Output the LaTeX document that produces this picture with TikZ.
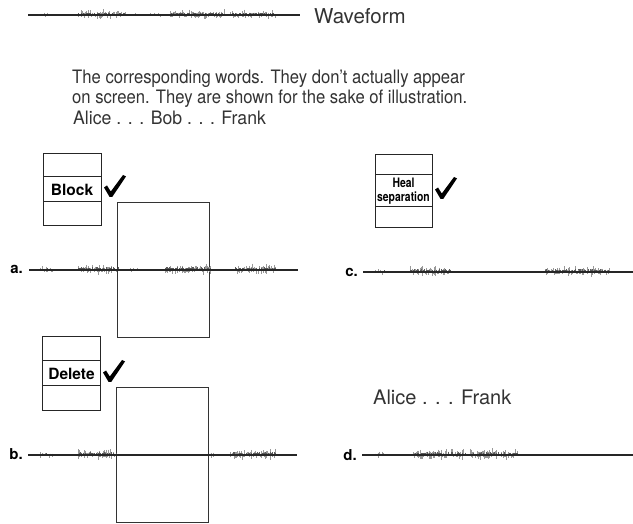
\documentclass[tikz,border=0pt]{standalone}
\usepackage{fontspec}
\setmainfont{TeX Gyre Heros}
\begin{document}
\begin{tikzpicture}[x=1pt,y=-1pt,
  base/.style={draw=black!85,line width=1.2pt},
  cell/.style={draw=black!85,line width=1pt,minimum width=58pt,inner sep=0pt,outer sep=0pt},
  frame/.style={draw=black!80,line width=0.9pt,minimum width=92pt,minimum height=135pt,inner sep=0pt},
  caption/.style={font=\fontsize{18.5}{20}\selectfont,text=black!80,inner sep=0pt,anchor=base west},
  tag/.style={font=\fontsize{15}{15}\selectfont\bfseries,inner sep=0pt,anchor=base east},
  menutext/.style={font=\fontsize{15.5}{15.5}\selectfont\bfseries,inner sep=0pt},
  wavetick/.style={draw=black!40,line width=0.5pt},
  wavecore/.style={draw=black!65,line width=0.5pt}]
\useasboundingbox (0,0) rectangle (633,524);
\pgfmathsetseed{4711}
% a short burst of noise drawn around a base line
\newcommand\wavburst[4]{%
  \pgfmathtruncatemacro\wbn{(#2-#1)/0.7}%
  \foreach \k in {0,...,\wbn}{%
    \pgfmathsetmacro\wbx{#1+0.7*\k}%
    \pgfmathsetmacro\wbu{#4*rnd*rnd}%
    \pgfmathsetmacro\wbd{0.8*#4*rnd*rnd}%
    \draw[wavetick] (\wbx,#3-\wbu) -- (\wbx,#3+\wbd);
    \pgfmathsetmacro\wbc{0.4*#4*rnd}%
    \draw[wavecore] (\wbx,#3-\wbc) -- (\wbx,#3+0.5*\wbc);
  }}
% check mark with its top left corner at #1
\newcommand\checkmk[1]{%
  \fill[black,shift={#1}] (0,12.5) -- (3,10.5) -- (6.8,16.5) -- (19,0) -- (22,1.5)
     -- (8.2,22) -- (5.6,22) -- cycle;}

% legend
\coordinate (lw0) at (28,15);
\coordinate (lw1) at (300,15);
\wavburst{40}{48}{15}{3}
\wavburst{78}{125}{15}{6}
\wavburst{135}{140}{15}{2}
\wavburst{150}{160}{15}{3}
\wavburst{170}{225}{15}{6}
\wavburst{230}{275}{15}{6}
\draw[base] (lw0) -- (lw1);
\node[caption,font=\fontsize{20.5}{22}\selectfont] (legend) at (314,24) {Waveform};

\node[caption] (note1) at (72,84) {\scalebox{0.9}[1]{The corresponding words. They don't actually appear}};
\node[caption] (note2) at (72,104) {\scalebox{0.9}[1]{on screen. They are shown for the sake of illustration.}};
\node[caption] (words) at (73,125) {\scalebox{0.955}[1]{Alice . . . Bob . . . Frank}};

% a. Block
\node[cell,minimum height=23pt] (blk1) at (72,165.5) {};
\node[cell,minimum height=25pt,menutext] (blk2) at (72,189.5) {Block};
\node[cell,minimum height=24pt] (blk3) at (72,214) {};
\checkmk{(104,175)}
\node[frame] (rega) at (163,269.5) {};
\node[tag] (taga) at (23,274) {a.};
\coordinate (wa) at (298,270);
\wavburst{40}{52}{270}{4}
\wavburst{78}{118}{270}{7}
\wavburst{130}{138}{270}{3}
\wavburst{165}{210}{270}{7}
\wavburst{235}{275}{270}{7}
\draw[base] (taga.east |- wa) ++(6,0) -- (wa);

% b. Delete
\node[cell,minimum height=24pt] (del1) at (71.5,349) {};
\node[cell,minimum height=25pt,menutext] (del2) at (71.5,373.5) {Delete};
\node[cell,minimum height=24pt] (del3) at (71.5,398) {};
\checkmk{(103,360)}
\node[frame] (regb) at (162.5,454.5) {};
\node[tag] (tagb) at (23,459) {b.};
\coordinate (wb) at (297,455);
\wavburst{40}{52}{455}{4}
\wavburst{78}{116}{455}{7}
\wavburst{208}{215}{455}{4}
\wavburst{230}{275}{455}{7}
\draw[base] (tagb.east |- wb) ++(5,0) -- (wb);

% c. Heal separation
\node[cell,minimum width=57pt,minimum height=20pt] (heal1) at (403.5,165) {};
\node[cell,minimum width=57pt,minimum height=32pt,align=center,
      font=\fontsize{13}{13.5}\selectfont\bfseries] (heal2) at (403.5,191)
      {\scalebox{0.8}[1]{Heal}\\\scalebox{0.8}[1]{separation}};
\node[cell,minimum width=57pt,minimum height=21pt] (heal3) at (403.5,217.5) {};
\checkmk{(435,177)}
\node[tag] (tagc) at (358,277) {c.};
\coordinate (wc) at (633,272);
\wavburst{375}{385}{272}{4}
\wavburst{410}{450}{272}{7}
\wavburst{545}{610}{272}{7}
\draw[base] (tagc.east |- wc) ++(5,0) -- (wc);

% d. result
\node[caption,font=\fontsize{20}{22}\selectfont] (words2) at (373,405) {Alice . . . Frank};
\node[tag] (tagd) at (357,460) {d.};
\coordinate (wd) at (633,455);
\wavburst{375}{385}{455}{4}
\wavburst{413}{465}{455}{7}
\wavburst{470}{517}{455}{7}
\draw[base] (tagd.east |- wd) ++(5,0) -- (wd);
\end{tikzpicture}
\end{document}
